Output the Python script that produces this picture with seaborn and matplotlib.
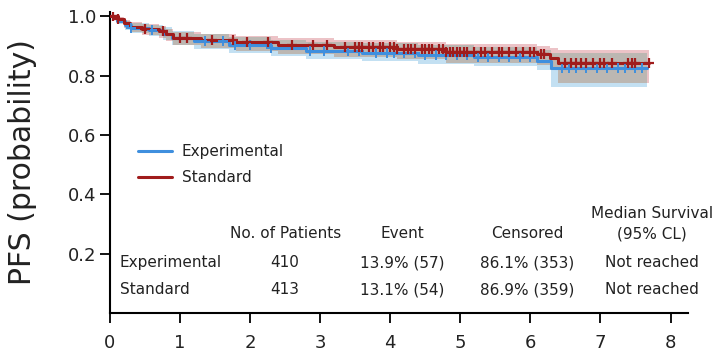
import numpy as np
import pandas as pd
import matplotlib
matplotlib.use("Agg")
import matplotlib.pyplot as plt
from matplotlib.lines import Line2D
import seaborn as sns

# ---------------- data ----------------
groups = ["Experimental", "Standard"]

exp_time = [0, 0.1, 0.22, 0.3, 0.55, 0.75, 0.88, 1.2, 1.7, 2.3, 2.8, 3.6, 4.4, 5.2, 6.1, 6.3, 7.66]
exp_surv = [1.0, 0.985, 0.97, 0.96, 0.952, 0.94, 0.925, 0.915, 0.903, 0.892, 0.884, 0.877, 0.87, 0.864, 0.85, 0.826, 0.826]
exp_lo = [1.0, 0.973, 0.954, 0.942, 0.932, 0.918, 0.902, 0.89, 0.877, 0.865, 0.856, 0.848, 0.84, 0.833, 0.817, 0.76, 0.76]
exp_hi = [1.0, 0.995, 0.985, 0.977, 0.97, 0.962, 0.95, 0.941, 0.93, 0.921, 0.914, 0.908, 0.902, 0.897, 0.886, 0.877, 0.877]
exp_cens = [0.3, 0.6, 1.0, 1.35, 1.62, 1.78, 2.0, 2.3, 2.85, 3.05, 3.4, 3.55, 3.8, 3.95, 4.05, 4.2, 4.35, 4.5,
            4.65, 4.8, 4.95, 5.1, 5.25, 5.4, 5.55, 5.7, 5.85, 6.0, 6.45, 6.55, 6.65, 6.8, 6.95, 7.1, 7.25,
            7.35, 7.5, 7.6]

std_time = [0, 0.11, 0.2, 0.29, 0.45, 0.7, 0.8, 0.9, 1.3, 1.8, 2.4, 3.2, 4.1, 4.8, 6.1, 6.28, 6.4, 7.69]
std_surv = [1.0, 0.99, 0.977, 0.965, 0.957, 0.95, 0.94, 0.928, 0.92, 0.912, 0.903, 0.896, 0.888, 0.878, 0.871, 0.86, 0.841, 0.841]
std_lo = [1.0, 0.978, 0.96, 0.946, 0.936, 0.927, 0.915, 0.902, 0.892, 0.882, 0.872, 0.864, 0.854, 0.842, 0.834, 0.818, 0.775, 0.775]
std_hi = [1.0, 0.997, 0.988, 0.979, 0.973, 0.967, 0.958, 0.948, 0.941, 0.934, 0.926, 0.92, 0.913, 0.905, 0.9, 0.892, 0.885, 0.885]
std_cens = [0.05, 0.12, 0.5, 0.75, 1.0, 1.1, 1.45, 1.75, 1.95, 2.25, 2.6, 2.9, 3.1, 3.35, 3.5, 3.55, 3.6, 3.7,
            3.75, 3.85, 3.9, 4.0, 4.05, 4.1, 4.2, 4.25, 4.3, 4.35, 4.45, 4.5, 4.55, 4.6, 4.7, 4.75, 4.8,
            4.85, 4.9, 4.95, 5.0, 5.05, 5.1, 5.2, 5.3, 5.35, 5.45, 5.55, 5.6, 5.7, 5.8, 5.9, 6.0, 6.05,
            6.15, 6.2, 6.5, 6.58, 6.65, 6.72, 6.8, 6.9, 7.0, 7.05, 7.16, 7.4, 7.45, 7.5, 7.69]

table_cols = ["No. of Patients", "Event", "Censored", "(95% CL)"]
table_top = "Median Survival"
table_rows = {
    "Experimental": ["410", "13.9% (57)", "86.1% (353)", "Not reached"],
    "Standard": ["413", "13.1% (54)", "86.9% (359)", "Not reached"],
}

x_ticks = [0, 1, 2, 3, 4, 5, 6, 7, 8]
y_ticks = [0.2, 0.4, 0.6, 0.8, 1.0]

# ---------------- style ----------------
sns.set_style("ticks")
plt.rcParams["font.family"] = ["DejaVu Sans"]
TXT = "#222222"
BLUE = "#3f8fde"
RED = "#a01c1c"
BLUE_CI = "#c3e0f2"
RED_CI = "#ecc3c7"
OVL_CI = "#bcb7b2"

fig = plt.figure(figsize=(7.17, 3.54), dpi=100)
ax = fig.add_axes([0.1534, 0.1158, 0.9596 - 0.1534, 0.967 - 0.1158])

def step_at(times, vals, t):
    times = np.asarray(times)
    vals = np.asarray(vals)
    idx = np.searchsorted(times, t, side="right") - 1
    idx = np.clip(idx, 0, len(vals) - 1)
    return vals[idx]

# CI bands (blue, red, and the grey overlap)
ax.fill_between(exp_time, exp_lo, exp_hi, step="post", color=BLUE_CI, lw=0, zorder=1)
ax.fill_between(std_time, std_lo, std_hi, step="post", color=RED_CI, lw=0, zorder=1.5)
grid = np.union1d(exp_time, std_time)
grid = grid[grid <= min(exp_time[-1], std_time[-1])]
ov_lo = np.maximum(step_at(exp_time, exp_lo, grid), step_at(std_time, std_lo, grid))
ov_hi = np.minimum(step_at(exp_time, exp_hi, grid), step_at(std_time, std_hi, grid))
ax.fill_between(grid, ov_lo, np.maximum(ov_hi, ov_lo), step="post", color=OVL_CI, lw=0, zorder=2)

# survival curves through seaborn
df = pd.concat([
    pd.DataFrame({"time": exp_time, "surv": exp_surv, "group": "Experimental"}),
    pd.DataFrame({"time": std_time, "surv": std_surv, "group": "Standard"}),
], ignore_index=True)
sns.lineplot(data=df, x="time", y="surv", hue="group", palette={"Experimental": BLUE, "Standard": RED},
             estimator=None, drawstyle="steps-post", linewidth=2.2, legend=False, ax=ax, zorder=3)

# censor marks
ax.plot(exp_cens, step_at(exp_time, exp_surv, np.array(exp_cens)), ls="none", marker="+",
        ms=7, mew=1.4, color=BLUE, zorder=4)
ax.plot(std_cens, step_at(std_time, std_surv, np.array(std_cens)), ls="none", marker="+",
        ms=7, mew=1.6, color=RED, zorder=5)

# axes
ax.set_xlim(0, 8.25)
ax.set_ylim(0, 1.015)
ax.set_xticks(x_ticks)
ax.set_xticklabels([str(v) for v in x_ticks])
ax.set_yticks(y_ticks)
ax.set_yticklabels([f"{v:.1f}" for v in y_ticks])
ax.tick_params(axis="both", direction="out", length=7, width=1.3, colors="black",
               labelsize=13, labelcolor=TXT)
ax.tick_params(axis="y", pad=3)
ax.tick_params(axis="x", pad=8)
for s in ["left", "bottom"]:
    ax.spines[s].set_linewidth(1.5)
    ax.spines[s].set_color("black")
sns.despine(ax=ax)
ax.set_xlabel("")
ax.set_ylabel("PFS (probability)", fontsize=21.5, color=TXT, labelpad=22)

# legend
handles = [Line2D([], [], color=BLUE, lw=2.2), Line2D([], [], color=RED, lw=2.2)]
ax.legend(handles, groups, loc="center left", bbox_to_anchor=(0.4, 0.50), bbox_transform=ax.transData,
          frameon=False, fontsize=11, handlelength=2.2, handletextpad=0.65, labelspacing=0.7,
          borderpad=0, borderaxespad=0, labelcolor=TXT)

# table
col_x = [2.5, 4.17, 5.96, 7.74]
head_y = 0.267
row_y = [0.169, 0.078]
ax.text(col_x[3], 0.334, table_top, ha="center", va="center", fontsize=11, color=TXT)
for cx, name in zip(col_x, table_cols):
    ax.text(cx, head_y, name, ha="center", va="center", fontsize=11, color=TXT)
for ry, (rname, vals) in zip(row_y, table_rows.items()):
    ax.text(0.14, ry, rname, ha="left", va="center", fontsize=11, color=TXT)
    for cx, v in zip(col_x, vals):
        ax.text(cx, ry, v, ha="center", va="center", fontsize=11, color=TXT)

fig.savefig("out.png", dpi=100)
